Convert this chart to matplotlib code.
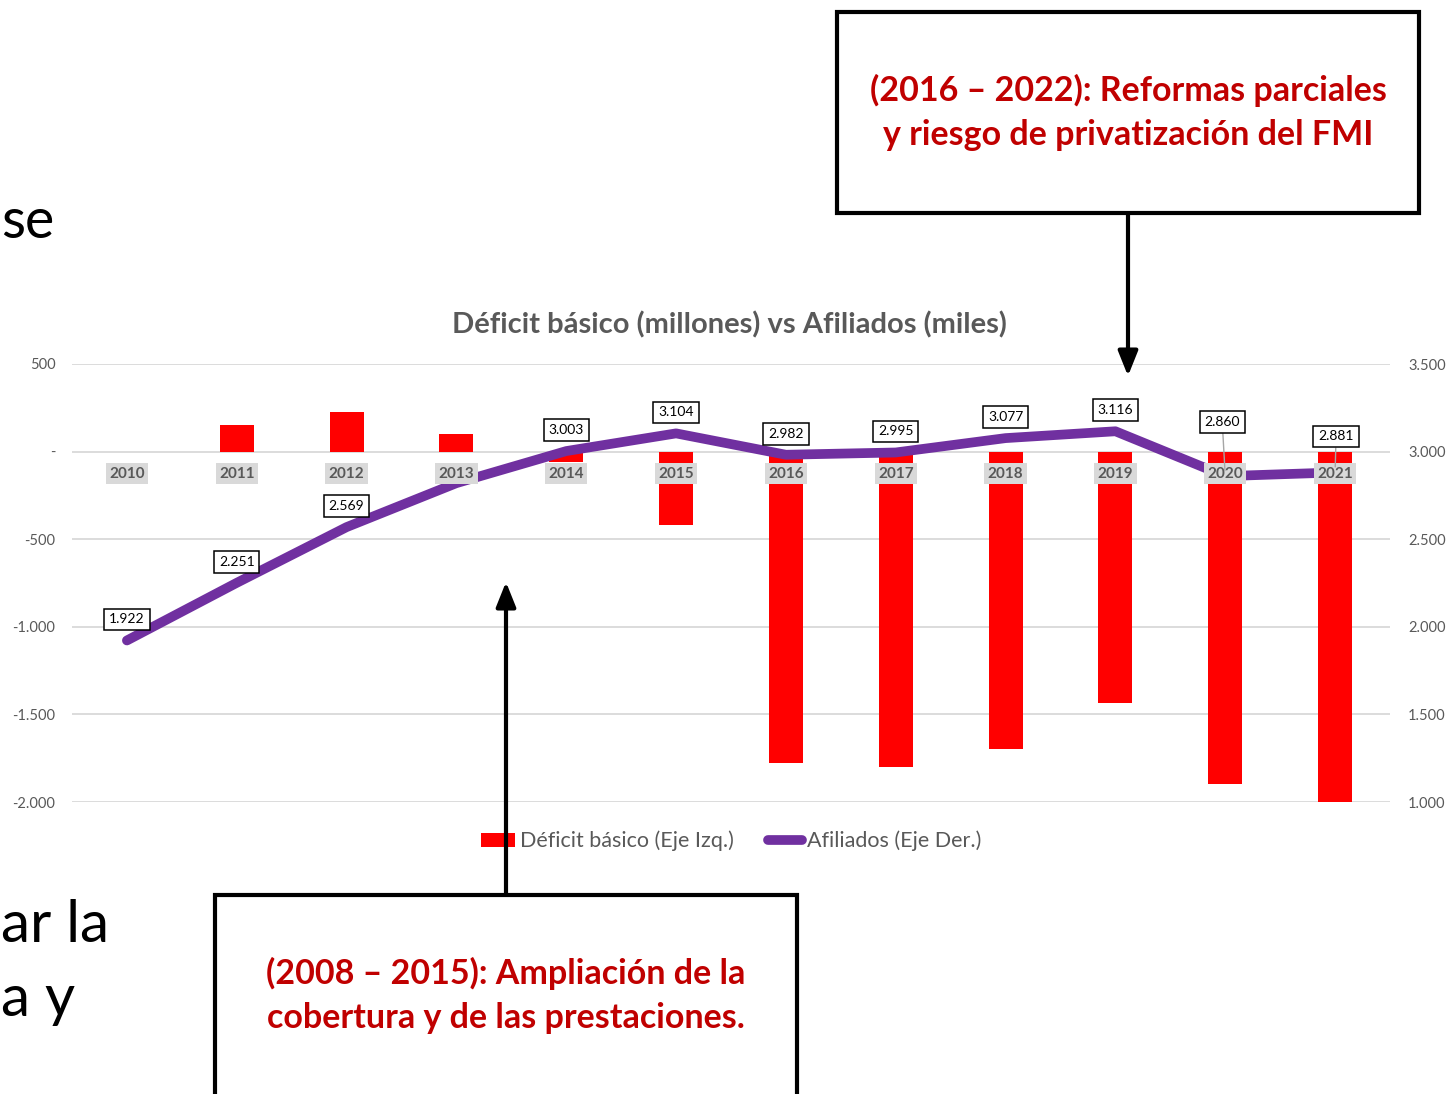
import matplotlib
matplotlib.use('Agg')
import matplotlib.pyplot as plt
from matplotlib.patches import Rectangle, FancyArrowPatch, Patch
from matplotlib.lines import Line2D

# ---------------- data ----------------
years = ['2010', '2011', '2012', '2013', '2014', '2015', '2016', '2017', '2018', '2019', '2020', '2021']
deficit = [0, 150, 225, 100, -60, -420, -1780, -1800, -1695, -1435, -1895, -2000]
afiliados = [1922, 2251, 2569, 2820, 3003, 3104, 2982, 2995, 3077, 3116, 2860, 2881]
afiliados_labels = ['1.922', '2.251', '2.569', None, '3.003', '3.104', '2.982', '2.995', '3.077', '3.116', '2.860', '2.881']
left_ticks = [500, 0, -500, -1000, -1500, -2000]
left_tick_labels = ['500', '-', '-500', '-1.000', '-1.500', '-2.000']
right_ticks = [3500, 3000, 2500, 2000, 1500, 1000]
right_tick_labels = ['3.500', '3.000', '2.500', '2.000', '1.500', '1.000']
title = 'Déficit básico (millones) vs Afiliados (miles)'
legend_labels = ['Déficit básico (Eje Izq.)', 'Afiliados (Eje Der.)']
box_top_lines = ['(2016 – 2022): Reformas parciales', 'y riesgo de privatización del FMI']
box_bottom_lines = ['(2008 – 2015): Ampliación de la', 'cobertura y de las prestaciones.']
slide_fragments = ['se', 'ar la', 'a y']

# ---------------- styles ----------------
FONT = 'Lato'
plt.rcParams['font.family'] = [FONT, 'DejaVu Sans']
GRAY = '#595959'
RED = '#FF0000'
PURPLE = '#7030A0'
DARKRED = '#C00000'
W, H = 1446, 1094


def fx(px):
    return px / W


def fy(py):
    return 1 - py / H


fig = plt.figure(figsize=(W / 100, H / 100), dpi=100)
fig.patch.set_facecolor('white')

ax = fig.add_axes([fx(72), fy(802), (1390 - 72) / W, (802 - 364) / H])
ax2 = ax.twinx()

x = list(range(len(years)))

# bars (left axis)
ax.bar(x, deficit, width=0.31, color=RED, zorder=2)
ax.set_xlim(-0.5, len(years) - 0.5)
ax.set_ylim(-2000, 500)
ax.set_yticks(left_ticks)
ax.set_yticklabels(left_tick_labels)
ax.set_xticks([])
ax.yaxis.grid(True, color='#d9d9d9', lw=1.3, zorder=0)
ax.set_axisbelow(True)
ax.tick_params(axis='y', length=0, labelsize=10.5, colors=GRAY, pad=12)
for s in ax.spines.values():
    s.set_visible(False)

# line (right axis)
ax2.plot(x, afiliados, color=PURPLE, lw=7, solid_capstyle='round', solid_joinstyle='round', zorder=3)
ax2.set_ylim(1000, 3500)
ax2.set_yticks(right_ticks)
ax2.set_yticklabels(right_tick_labels)
ax2.tick_params(axis='y', length=0, labelsize=10.5, colors=GRAY, pad=13)
for s in ax2.spines.values():
    s.set_visible(False)

# category labels along the zero line of the left axis (drawn above the line)
for i, yr in enumerate(years):
    ax2.annotate(yr, xy=(i, 0), xycoords=ax.transData, xytext=(0, -22), textcoords='offset pixels',
                 ha='center', va='center', fontsize=11, fontweight='bold', color=GRAY,
                 bbox=dict(boxstyle='square,pad=0.22', fc='#d9d9d9', ec='none'), zorder=5)

# data labels
for i, (v, lab) in enumerate(zip(afiliados, afiliados_labels)):
    if lab is None:
        continue
    off = (0, 21)
    arrow = None
    if i == len(years) - 2:
        off = (-3, 54)
        arrow = dict(arrowstyle='-', color='#a6a6a6', lw=1, shrinkA=0, shrinkB=4)
    elif i == len(years) - 1:
        off = (1, 36)
        arrow = dict(arrowstyle='-', color='#a6a6a6', lw=1, shrinkA=0, shrinkB=4)
    ax2.annotate(lab, xy=(i, v), xytext=off, textcoords='offset pixels',
                 ha='center', va='center', fontsize=10, color='black',
                 bbox=dict(boxstyle='square,pad=0.35', fc='white', ec='black', lw=1.1),
                 arrowprops=arrow, zorder=6)

# title
fig.text(fx(729), fy(325), title, ha='center', va='center', fontsize=21,
         fontweight='bold', color=GRAY)

# legend
handles = [Patch(facecolor=RED, edgecolor='none'),
           Line2D([0], [0], color=PURPLE, lw=7, solid_capstyle='round')]
fig.legend(handles, legend_labels, loc='center', bbox_to_anchor=(fx(731), fy(841)),
           ncol=2, frameon=False, fontsize=15.5, labelcolor=GRAY, handlelength=1.6,
           handleheight=0.6, handletextpad=0.2, columnspacing=1.6)

# annotation boxes
fig.add_artist(Rectangle((fx(837), fy(213)), (1419 - 837) / W, (213 - 12) / H,
                         transform=fig.transFigure, fc='white', ec='black', lw=3, zorder=4))
fig.add_artist(Rectangle((fx(215), fy(1110)), (797 - 215) / W, (1110 - 895) / H,
                         transform=fig.transFigure, fc='white', ec='black', lw=3, zorder=4,
                         clip_on=False))
BOX_FS = 24.5
fig.text(fx(1128), fy(90), box_top_lines[0], ha='center', va='center', fontsize=BOX_FS,
         fontweight='bold', color=DARKRED, zorder=7)
fig.text(fx(1128), fy(135), box_top_lines[1], ha='center', va='center', fontsize=BOX_FS,
         fontweight='bold', color=DARKRED, zorder=7)
fig.text(fx(506), fy(973), box_bottom_lines[0], ha='center', va='center', fontsize=BOX_FS,
         fontweight='bold', color=DARKRED, zorder=7)
fig.text(fx(506), fy(1018), box_bottom_lines[1], ha='center', va='center', fontsize=BOX_FS,
         fontweight='bold', color=DARKRED, zorder=7)

# arrows
arrow_style = '-|>,head_length=1.0,head_width=0.4'
fig.add_artist(FancyArrowPatch((fx(1128), fy(213)), (fx(1128), fy(376)),
                               transform=fig.transFigure, arrowstyle=arrow_style,
                               mutation_scale=15, lw=3, color='black',
                               shrinkA=0, shrinkB=0, zorder=6))
fig.add_artist(FancyArrowPatch((fx(506), fy(895)), (fx(506), fy(582)),
                               transform=fig.transFigure, arrowstyle=arrow_style,
                               mutation_scale=15, lw=3, color='black',
                               shrinkA=0, shrinkB=0, zorder=6))

# slide text fragments (at the left edge of the slide)
fig.text(fx(1), fy(222), slide_fragments[0], ha='left', va='center', fontsize=40, color='black')
fig.text(fx(1), fy(926), slide_fragments[1], ha='left', va='center', fontsize=42, color='black')
fig.text(fx(1), fy(1000), slide_fragments[2], ha='left', va='center', fontsize=42, color='black')

fig.savefig('out.png', dpi=100, facecolor='white')
